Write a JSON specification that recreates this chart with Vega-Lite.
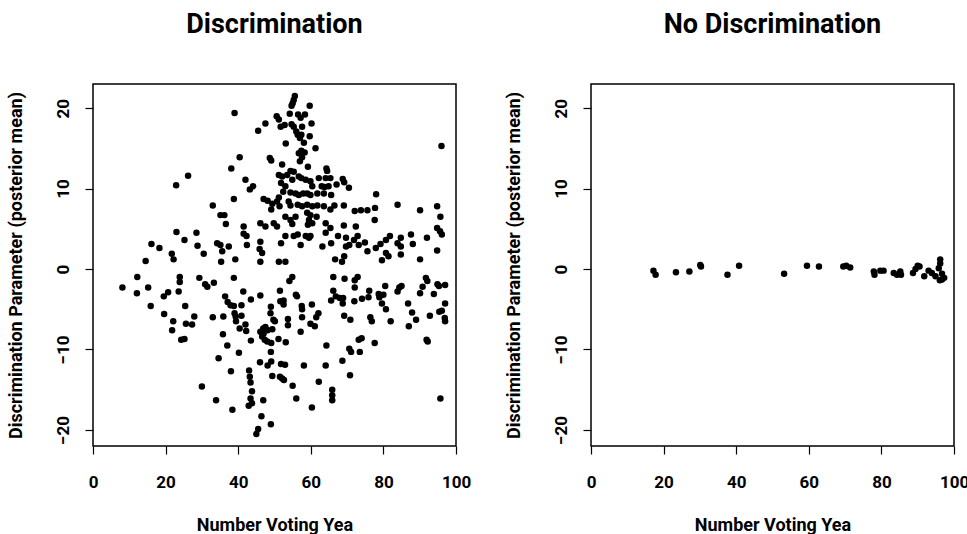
{
  "$schema": "https://vega.github.io/schema/vega-lite/v6.json",
  "autosize": {"type": "none"},
  "padding": {"left": 93, "top": 84, "right": 874, "bottom": 88},
  "background": "white",
  "bounds": "flush",
  "spacing": 135,
  "config": {
    "font": "Roboto",
    "view": {"stroke": "#000", "strokeWidth": 1.5},
    "axis": {
      "domain": false, "grid": false, "ticks": true, "tickColor": "#000", "tickSize": 8, "tickWidth": 1.2,
      "labelFont": "Roboto",
      "labelFontSize": 17, "labelFontWeight": "bold", "labelColor": "#000", "labelFlush": false, "labelOverlap": false,
      "titleFont": "Roboto",
      "titleFontSize": 18, "titleFontWeight": "bold", "titleColor": "#000"
    },
    "axisY": {"labelAngle": 270, "labelAlign": "center", "labelBaseline": "bottom", "labelPadding": 13, "titlePadding": 29},
    "axisX": {"labelPadding": 20, "titlePadding": 26},
    "title": {"font": "Roboto", "fontSize": 27, "fontWeight": "bold", "color": "#000", "offset": 45, "anchor": "middle"}
  },
  "datasets": {
    "disc": [
      {"x":22.9,"y":10.4},{"x":26.2,"y":11.6},{"x":33.0,"y":7.9},{"x":23.0,"y":4.6},{"x":25.2,"y":3.6},{"x":28.5,"y":4.5},{"x":16.1,"y":3.1},{"x":18.3,"y":2.6},{"x":28.8,"y":2.9},{"x":21.7,"y":1.9},{"x":30.5,"y":1.9},{"x":14.5,"y":1.0},{"x":22.2,"y":1.2},
      {"x":12.2,"y":-1.0},{"x":8.1,"y":-2.3},{"x":12.1,"y":-3.0},{"x":15.2,"y":-2.3},{"x":15.9,"y":-4.6},{"x":19.5,"y":-3.4},{"x":20.7,"y":-2.9},{"x":23.9,"y":-1.0},{"x":23.9,"y":-1.6},{"x":23.6,"y":-2.8},{"x":29.3,"y":-1.1},{"x":30.9,"y":-1.9},{"x":31.5,"y":-2.2},{"x":19.6,"y":-5.6},{"x":25.4,"y":-4.6},{"x":27.9,"y":-5.9},{"x":22.1,"y":-6.5},{"x":25.6,"y":-6.8},{"x":27.3,"y":-6.9},{"x":21.8,"y":-7.6},{"x":24.3,"y":-8.8},{"x":25.2,"y":-8.7},{"x":30.0,"y":-14.6},
      {"x":96.0,"y":15.3},{"x":68.8,"y":11.2},{"x":69.2,"y":10.8},{"x":67.1,"y":10.5},{"x":70.5,"y":10.1},{"x":78.0,"y":9.3},{"x":66.5,"y":7.9},{"x":69.1,"y":7.9},{"x":72.1,"y":7.2},{"x":73.8,"y":7.3},{"x":75.6,"y":7.3},{"x":77.7,"y":7.6},{"x":83.9,"y":8.0},{"x":90.1,"y":7.3},{"x":94.8,"y":7.8},{"x":95.7,"y":6.5},{"x":77.6,"y":6.1},{"x":69.1,"y":5.4},{"x":72.4,"y":5.3},{"x":67.5,"y":4.1},{"x":69.7,"y":3.9},{"x":69.7,"y":2.8},{"x":70.6,"y":3.0},{"x":71.9,"y":3.6},{"x":72.9,"y":4.1},{"x":73.2,"y":3.0},{"x":74.9,"y":3.3},{"x":75.6,"y":2.2},{"x":77.9,"y":2.6},{"x":79.2,"y":3.1},{"x":80.7,"y":3.6},{"x":81.8,"y":4.1},{"x":83.9,"y":3.2},{"x":84.8,"y":3.9},{"x":84.8,"y":2.8},{"x":80.7,"y":2.0},{"x":81.4,"y":1.6},{"x":84.8,"y":1.8},{"x":87.6,"y":4.3},{"x":88.1,"y":3.1},{"x":92.0,"y":3.9},{"x":94.8,"y":5.1},{"x":95.6,"y":4.7},{"x":96.1,"y":4.3},{"x":79.6,"y":1.1},{"x":90.1,"y":1.2},{"x":94.8,"y":2.3},{"x":68.6,"y":0.9},{"x":69.2,"y":1.6},{"x":66.7,"y":1.2},
      {"x":69.3,"y":-1.2},{"x":72.1,"y":-1.4},{"x":72.9,"y":-1.0},{"x":72.1,"y":-2.3},{"x":66.9,"y":-3.4},{"x":68.0,"y":-3.6},{"x":68.9,"y":-3.6},{"x":68.8,"y":-4.3},{"x":72.0,"y":-4.0},{"x":74.1,"y":-3.7},{"x":75.9,"y":-3.5},{"x":76.1,"y":-2.7},{"x":78.7,"y":-3.1},{"x":78.9,"y":-3.5},{"x":80.0,"y":-3.2},{"x":80.5,"y":-2.1},{"x":79.6,"y":-4.3},{"x":80.7,"y":-5.0},{"x":83.9,"y":-2.8},{"x":84.4,"y":-2.3},{"x":85.0,"y":-2.1},{"x":86.8,"y":-4.3},{"x":87.9,"y":-5.4},{"x":89.0,"y":-6.3},{"x":87.0,"y":-7.1},{"x":82.0,"y":-6.5},{"x":90.1,"y":-3.0},{"x":90.8,"y":-2.2},{"x":91.7,"y":-1.1},{"x":92.1,"y":-1.5},{"x":93.9,"y":-3.1},{"x":94.9,"y":-1.9},{"x":95.3,"y":-2.1},{"x":97.0,"y":-2.0},{"x":97.0,"y":-4.3},{"x":92.8,"y":-5.8},{"x":95.4,"y":-5.3},{"x":96.1,"y":-5.2},{"x":96.9,"y":-6.1},{"x":97.0,"y":-6.5},{"x":69.2,"y":-5.8},{"x":70.9,"y":-6.3},{"x":76.4,"y":-6.0},{"x":76.8,"y":-6.5},{"x":91.9,"y":-8.8},{"x":92.2,"y":-9.0},{"x":77.6,"y":-9.2},{"x":73.2,"y":-8.8},{"x":74.0,"y":-8.6},{"x":70.6,"y":-9.9},{"x":71.1,"y":-10.3},{"x":73.5,"y":-10.3},{"x":68.7,"y":-11.4},{"x":70.8,"y":-13.2},{"x":95.7,"y":-16.1},
      {"x":35.3,"y":0.9},{"x":46.1,"y":0.9},{"x":51.2,"y":0.9},{"x":53.0,"y":0.9},{"x":33.3,"y":-1.7},{"x":38.8,"y":-1.1},{"x":41.4,"y":-2.8},{"x":36.4,"y":-3.4},{"x":37.1,"y":-4.1},{"x":37.9,"y":-4.5},{"x":38.8,"y":-4.6},{"x":40.9,"y":-4.5},{"x":43.5,"y":-3.8},{"x":46.1,"y":-3.3},{"x":33.0,"y":-6.0},{"x":35.9,"y":-5.9},{"x":39.0,"y":-5.5},{"x":39.3,"y":-5.9},{"x":40.9,"y":-5.8},{"x":39.4,"y":-6.5},{"x":42.0,"y":-6.9},{"x":40.4,"y":-7.4},{"x":42.2,"y":-7.7},{"x":35.8,"y":-8.1},{"x":37.0,"y":-9.5},{"x":43.5,"y":-8.9},{"x":40.2,"y":-10.4},{"x":34.6,"y":-11.1},{"x":38.0,"y":-12.7},{"x":33.9,"y":-16.3},{"x":38.4,"y":-17.5},{"x":49.0,"y":-4.7},{"x":48.9,"y":-5.5},{"x":49.7,"y":-6.3},{"x":50.1,"y":-6.5},{"x":51.5,"y":-2.7},{"x":51.6,"y":-4.0},{"x":52.5,"y":-3.9},{"x":52.5,"y":-4.4},{"x":53.7,"y":-6.2},{"x":53.7,"y":-7.0},{"x":54.1,"y":-1.5},{"x":54.9,"y":-1.0},{"x":55.9,"y":-3.2},{"x":56.2,"y":-3.4},{"x":57.5,"y":-4.6},{"x":57.6,"y":-5.0},{"x":57.6,"y":-6.0},{"x":57.2,"y":-7.8},{"x":60.3,"y":-4.4},{"x":59.9,"y":-6.8},{"x":61.1,"y":-7.1},{"x":61.5,"y":-6.0},{"x":62.1,"y":-5.5},{"x":66.2,"y":-1.0},{"x":66.2,"y":-2.7},{"x":65.6,"y":-3.9},{"x":46.9,"y":-7.4},{"x":47.5,"y":-7.2},{"x":46.1,"y":-7.8},{"x":47.0,"y":-8.0},{"x":48.1,"y":-7.6},{"x":49.4,"y":-7.5},{"x":46.6,"y":-8.4},{"x":47.3,"y":-8.8},{"x":48.0,"y":-9.0},{"x":49.1,"y":-9.2},{"x":51.1,"y":-8.7},{"x":53.1,"y":-9.1},{"x":49.0,"y":-10.3},{"x":46.0,"y":-11.6},{"x":48.1,"y":-12.0},{"x":49.1,"y":-11.5},{"x":51.8,"y":-11.8},{"x":52.9,"y":-11.9},{"x":49.4,"y":-13.3},{"x":51.5,"y":-13.4},{"x":52.1,"y":-13.6},{"x":52.6,"y":-13.8},{"x":43.0,"y":-12.6},{"x":43.2,"y":-13.4},{"x":43.4,"y":-14.1},{"x":43.8,"y":-15.2},{"x":43.4,"y":-16.1},{"x":43.8,"y":-16.7},{"x":42.9,"y":-17.0},{"x":46.9,"y":-16.3},{"x":46.4,"y":-18.3},{"x":49.0,"y":-19.3},{"x":45.5,"y":-19.9},{"x":45.0,"y":-20.5},{"x":55.0,"y":-14.5},{"x":56.0,"y":-16.1},{"x":60.3,"y":-17.2},{"x":58.1,"y":-12.0},{"x":62.2,"y":-14.0},{"x":64.1,"y":-12.0},{"x":64.3,"y":-9.5},{"x":65.9,"y":-15.0},{"x":65.9,"y":-15.7},{"x":65.9,"y":-16.3},
      {"x":55.6,"y":21.5},{"x":55.3,"y":21.0},{"x":55.0,"y":20.6},{"x":54.7,"y":20.3},{"x":59.7,"y":20.3},{"x":39.0,"y":19.4},{"x":54.2,"y":19.3},{"x":56.5,"y":19.2},{"x":58.4,"y":19.2},{"x":50.6,"y":19.0},{"x":51.2,"y":18.6},{"x":57.2,"y":18.8},{"x":47.5,"y":18.1},{"x":51.7,"y":17.7},{"x":52.8,"y":17.9},{"x":54.7,"y":18.0},{"x":55.3,"y":17.7},{"x":57.6,"y":17.7},{"x":60.2,"y":18.1},{"x":45.5,"y":17.2},{"x":56.0,"y":17.1},{"x":56.4,"y":16.7},{"x":57.4,"y":16.7},{"x":57.0,"y":16.3},{"x":59.7,"y":16.5},{"x":58.1,"y":15.7},{"x":53.1,"y":15.6},{"x":61.3,"y":15.0},{"x":57.4,"y":14.7},{"x":56.7,"y":14.4},{"x":58.3,"y":14.5},{"x":57.6,"y":13.9},{"x":40.4,"y":13.9},{"x":48.7,"y":13.8},{"x":49.1,"y":13.5},{"x":57.0,"y":13.4},{"x":52.1,"y":13.0},{"x":38.1,"y":12.5},{"x":59.2,"y":12.7},{"x":54.4,"y":12.2},{"x":64.3,"y":12.5},{"x":64.5,"y":12.2},{"x":42.0,"y":11.1},{"x":44.1,"y":10.3},{"x":43.2,"y":9.9},{"x":51.2,"y":11.7},{"x":52.1,"y":11.5},{"x":53.5,"y":11.7},{"x":55.3,"y":12.1},{"x":56.7,"y":11.5},{"x":57.4,"y":11.3},{"x":58.6,"y":11.1},{"x":59.9,"y":10.9},{"x":62.2,"y":11.3},{"x":64.1,"y":11.3},{"x":65.4,"y":11.3},{"x":51.8,"y":10.7},{"x":53.0,"y":10.3},{"x":54.9,"y":11.1},{"x":60.4,"y":10.3},{"x":63.0,"y":10.3},{"x":63.8,"y":10.2},{"x":64.9,"y":10.3},{"x":52.4,"y":9.6},{"x":54.4,"y":9.5},{"x":55.8,"y":9.4},{"x":56.7,"y":9.2},{"x":57.9,"y":9.4},{"x":59.0,"y":9.4},{"x":59.9,"y":9.2},{"x":61.8,"y":9.4},{"x":63.6,"y":9.4},{"x":65.6,"y":9.2},{"x":38.8,"y":8.7},{"x":47.0,"y":8.7},{"x":48.1,"y":8.5},{"x":49.4,"y":8.1},{"x":51.2,"y":8.9},{"x":50.7,"y":8.4},{"x":51.4,"y":7.8},{"x":49.1,"y":7.4},{"x":53.9,"y":8.4},{"x":54.4,"y":7.9},{"x":56.4,"y":8.0},{"x":57.6,"y":7.8},{"x":59.0,"y":8.0},{"x":60.4,"y":7.8},{"x":61.8,"y":7.9},{"x":63.6,"y":7.8},{"x":65.4,"y":7.4},{"x":35.1,"y":6.7},{"x":36.2,"y":6.7},{"x":36.6,"y":5.6},{"x":41.5,"y":5.3},{"x":46.1,"y":5.7},{"x":47.5,"y":5.3},{"x":49.8,"y":5.7},{"x":50.7,"y":5.3},{"x":53.0,"y":6.5},{"x":54.4,"y":6.1},{"x":54.9,"y":5.6},{"x":55.8,"y":6.5},{"x":59.0,"y":7.0},{"x":59.9,"y":6.7},{"x":59.5,"y":6.1},{"x":60.4,"y":5.7},{"x":59.2,"y":5.5},{"x":61.6,"y":6.5},{"x":64.1,"y":5.7},{"x":65.4,"y":5.1},{"x":64.1,"y":4.5},{"x":34.2,"y":3.2},{"x":35.1,"y":3.0},{"x":37.4,"y":2.8},{"x":35.6,"y":2.2},{"x":41.5,"y":4.4},{"x":42.3,"y":4.1},{"x":42.4,"y":3.0},{"x":46.1,"y":3.4},{"x":45.9,"y":2.5},{"x":46.6,"y":2.0},{"x":51.8,"y":3.2},{"x":53.0,"y":4.1},{"x":55.3,"y":4.1},{"x":56.4,"y":4.3},{"x":57.2,"y":3.0},{"x":58.6,"y":4.1},{"x":59.5,"y":3.9},{"x":59.9,"y":4.1},{"x":63.2,"y":2.8},{"x":65.6,"y":3.2},{"x":39.2,"y":1.2}
    ],
    "nodisc": [
      {"x":17.2,"y":-0.2},{"x":17.8,"y":-0.7},{"x":23.4,"y":-0.4},{"x":27.1,"y":-0.3},{"x":30.1,"y":0.5},{"x":30.3,"y":0.3},{"x":37.6,"y":-0.7},{"x":40.8,"y":0.4},{"x":53.2,"y":-0.6},{"x":59.5,"y":0.4},{"x":62.8,"y":0.3},{"x":70.3,"y":0.4},{"x":71.4,"y":0.2},{"x":69.5,"y":0.3},{"x":77.9,"y":-0.3},{"x":78.1,"y":-0.7},{"x":79.7,"y":-0.2},{"x":80.6,"y":-0.2},{"x":83.4,"y":-0.5},{"x":84.3,"y":-0.7},{"x":85.2,"y":-0.3},{"x":85.4,"y":-0.7},{"x":88.7,"y":-0.5},{"x":89.4,"y":0.0},{"x":90.0,"y":0.4},{"x":90.5,"y":0.3},{"x":91.8,"y":-0.9},{"x":93.0,"y":-0.2},{"x":93.9,"y":-0.5},{"x":94.9,"y":-0.9},{"x":96.2,"y":1.2},{"x":96.2,"y":0.7},{"x":95.8,"y":0.1},{"x":96.7,"y":-0.6},{"x":96.7,"y":-1.3},{"x":96.1,"y":-1.4},{"x":97.3,"y":-1.1}
    ]
  },
  "hconcat": [
    {
      "width": 363, "height": 362,
      "title": {"text": "Discrimination"},
      "data": {"name": "disc"},
      "mark": {"type": "circle", "size": 42, "color": "#000", "opacity": 1},
      "encoding": {
        "x": {"field": "x", "type": "quantitative", "scale": {"domain": [0, 100], "nice": false, "zero": false}, "axis": {"values": [0, 20, 40, 60, 80, 100], "title": "Number Voting Yea"}},
        "y": {"field": "y", "type": "quantitative", "scale": {"domain": [-22, 23], "nice": false, "zero": false}, "axis": {"values": [-20, -10, 0, 10, 20], "title": "Discrimination Parameter (posterior mean)"}}
      }
    },
    {
      "width": 363, "height": 362,
      "title": {"text": "No Discrimination"},
      "data": {"name": "nodisc"},
      "mark": {"type": "circle", "size": 42, "color": "#000", "opacity": 1},
      "encoding": {
        "x": {"field": "x", "type": "quantitative", "scale": {"domain": [0, 100], "nice": false, "zero": false}, "axis": {"values": [0, 20, 40, 60, 80, 100], "title": "Number Voting Yea"}},
        "y": {"field": "y", "type": "quantitative", "scale": {"domain": [-22, 23], "nice": false, "zero": false}, "axis": {"values": [-20, -10, 0, 10, 20], "title": "Discrimination Parameter (posterior mean)"}}
      }
    }
  ]
}
